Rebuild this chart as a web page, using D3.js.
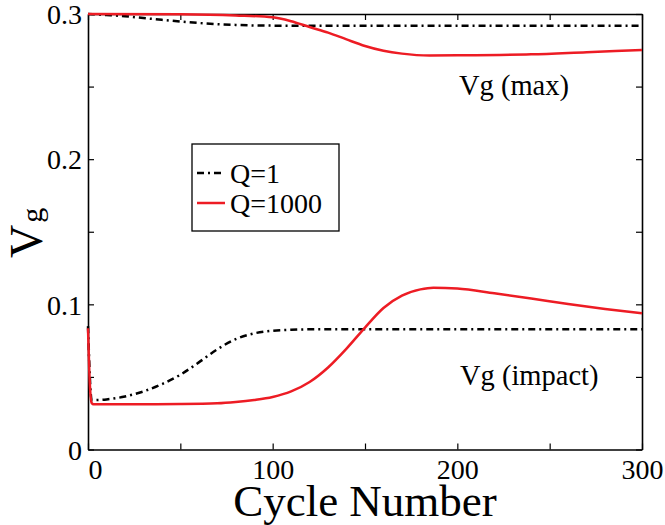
<!DOCTYPE html>
<html lang="en">
<head>
<meta charset="utf-8">
<title>Vg vs Cycle Number</title>
<script src="https://d3js.org/d3.v7.min.js"></script>
<style>
  body { margin: 0; background: #fff; }
  text { font-family: "Liberation Serif", "Times New Roman", serif; fill: #000; }
</style>
</head>
<body>
<div id="chart"></div>
<script>
// cycle numbers where values were read
var maxQ1_x = [0, 10, 20, 30, 40, 50, 60, 70, 80, 90, 100, 120, 160, 200, 250, 300];
var maxQ1_y = [0.300, 0.2993, 0.2985, 0.2972, 0.2960, 0.2948, 0.2938, 0.2930, 0.2925, 0.2921, 0.2920, 0.2919, 0.2919, 0.2919, 0.2919, 0.2919];

var maxQ1000_x = [0, 50, 80, 100, 110, 120, 130, 140, 150, 160, 170, 185, 200, 240, 270, 300];
var maxQ1000_y = [0.300, 0.2998, 0.2990, 0.2977, 0.2950, 0.2910, 0.2872, 0.2825, 0.2780, 0.2747, 0.2727, 0.2714, 0.2715, 0.2722, 0.2737, 0.2752];

var impQ1_x = [0, 2, 10, 20, 30, 40, 50, 60, 70, 80, 90, 100, 110, 120, 150, 200, 300];
var impQ1_y = [0.085, 0.034, 0.0345, 0.0365, 0.040, 0.0450, 0.0515, 0.0600, 0.0690, 0.0760, 0.0800, 0.0818, 0.0825, 0.0828, 0.0829, 0.0829, 0.0829];

var impQ1000_x = [0, 1, 2, 3, 20, 50, 70, 80, 90, 100, 110, 120, 130, 140, 150, 160, 170, 180, 187, 200, 220, 240, 260, 280, 300];
var impQ1000_y = [0.0835, 0.045, 0.032, 0.0311, 0.0311, 0.0313, 0.0318, 0.0327, 0.0341, 0.0362, 0.0400, 0.0465, 0.0565, 0.0695, 0.0840, 0.0975, 0.1060, 0.1103, 0.1115, 0.1109, 0.1076, 0.1040, 0.1002, 0.0968, 0.0938];

var xTicks = [0, 50, 100, 150, 200, 250, 300];
var xLabels = ["0", "", "100", "", "200", "", "300"];
var yTicks = [0, 0.05, 0.1, 0.15, 0.2, 0.25, 0.3];
var yLabels = ["0", "", "0.1", "", "0.2", "", "0.3"];

var legendNames = ["Q=1", "Q=1000"];

var W = 665, H = 525;
var pLeft = 88, pRight = 642, pTop = 14, pBottom = 449.5;

var svg = d3.select("#chart").append("svg")
  .attr("width", W).attr("height", H);

var x = d3.scaleLinear().domain([0, 300]).range([pLeft, pRight]);
var y = d3.scaleLinear().domain([0, 0.3]).range([pBottom, pTop]);

function zip(xs, ys) { return xs.map(function (v, i) { return [v, ys[i]]; }); }

var line = d3.line()
  .x(function (d) { return x(d[0]); })
  .y(function (d) { return y(d[1]); })
  .curve(d3.curveMonotoneX);

// axes with inward ticks
var gx = svg.append("g").attr("transform", "translate(0," + pBottom + ")")
  .call(d3.axisBottom(x).tickValues(xTicks).tickSizeInner(-6).tickSizeOuter(0)
    .tickPadding(10).tickFormat(function (d, i) { return xLabels[i]; }));
gx.selectAll("text").attr("font-size", 28).attr("dy", "0.71em")
  .attr("dx", function (d) { return d === 0 ? 7 : 0; });

var gy = svg.append("g").attr("transform", "translate(" + pLeft + ",0)")
  .call(d3.axisLeft(y).tickValues(yTicks).tickSizeInner(-6).tickSizeOuter(0)
    .tickPadding(6).tickFormat(function (d, i) { return yLabels[i]; }));
gy.selectAll("text").attr("font-size", 28).attr("dy", "0.35em");

svg.append("g").attr("transform", "translate(0," + pTop + ")")
  .call(d3.axisTop(x).tickValues(xTicks).tickSizeInner(-6).tickSizeOuter(0).tickFormat(""));
svg.append("g").attr("transform", "translate(" + pRight + ",0)")
  .call(d3.axisRight(y).tickValues(yTicks).tickSizeInner(-6).tickSizeOuter(0).tickFormat(""));

svg.selectAll(".domain").attr("stroke", "#000").attr("stroke-width", 1.6);
svg.selectAll(".tick line").attr("stroke", "#000").attr("stroke-width", 1.2);
svg.selectAll(".tick text").style("font-family", "'Liberation Serif', 'Times New Roman', serif");

// curves
var series = [
  { pts: zip(maxQ1_x, maxQ1_y), color: "#000", dash: "7,4,2,4" },
  { pts: zip(impQ1_x, impQ1_y), color: "#000", dash: "7,4,2,4" },
  { pts: zip(maxQ1000_x, maxQ1000_y), color: "#ed1c24", dash: null },
  { pts: zip(impQ1000_x, impQ1000_y), color: "#ed1c24", dash: null }
];
svg.append("g").selectAll("path").data(series).enter().append("path")
  .attr("d", function (d) { return line(d.pts); })
  .attr("fill", "none")
  .attr("stroke", function (d) { return d.color; })
  .attr("stroke-width", 2.5)
  .attr("stroke-dasharray", function (d) { return d.dash; });

// annotations
svg.append("text").attr("x", 459).attr("y", 95).attr("font-size", 28.5).text("Vg (max)");
svg.append("text").attr("x", 460).attr("y", 385).attr("font-size", 28.5).text("Vg (impact)");

// legend
var lg = svg.append("g");
lg.append("rect").attr("x", 192).attr("y", 144).attr("width", 147).attr("height", 87)
  .attr("fill", "#fff").attr("stroke", "#000").attr("stroke-width", 1.3);
var legendStyles = [{ color: "#000", dash: "7,4,2,4" }, { color: "#ed1c24", dash: null }];
legendNames.forEach(function (name, i) {
  var yy = 173 + i * 30;
  lg.append("line").attr("x1", 197).attr("x2", 225).attr("y1", yy).attr("y2", yy)
    .attr("stroke", legendStyles[i].color).attr("stroke-width", 2.5)
    .attr("stroke-dasharray", legendStyles[i].dash);
  lg.append("text").attr("x", 230).attr("y", yy + 10).attr("font-size", 28).text(name);
});

// axis titles
svg.append("text").attr("x", (pLeft + pRight) / 2).attr("y", 516)
  .attr("text-anchor", "middle").attr("font-size", 45).text("Cycle Number");

var yl = svg.append("text").attr("transform", "translate(42,258) rotate(-90)")
  .attr("font-size", 46);
yl.append("tspan").text("V");
yl.append("tspan").attr("font-size", 30).attr("dx", 2).attr("dy", 0).text("g");
</script>
</body>
</html>
